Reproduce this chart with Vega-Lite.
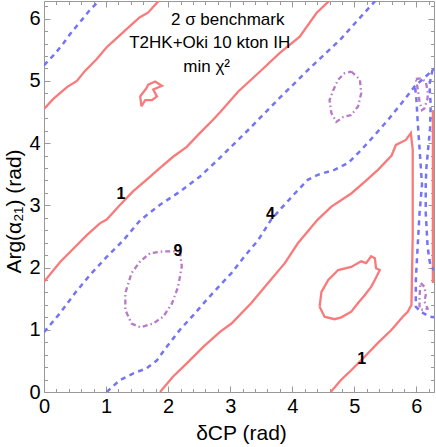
{
  "$schema": "https://vega.github.io/schema/vega-lite/v6.json",
  "width": 390,
  "height": 391,
  "autosize": {"type": "none"},
  "padding": {"left": 44, "top": 1, "right": 2, "bottom": 55},
  "config": {"view": {"stroke": null}, "font": "Liberation Sans"},
  "datasets": {
    "red": [
      {"c":"r1","i":0,"x":0,"y":4.55},{"c":"r1","i":1,"x":0.15,"y":4.71},{"c":"r1","i":2,"x":0.37,"y":4.9},{"c":"r1","i":3,"x":0.53,"y":5.0},{"c":"r1","i":4,"x":0.66,"y":5.16},{"c":"r1","i":5,"x":0.85,"y":5.35},{"c":"r1","i":6,"x":1.01,"y":5.54},{"c":"r1","i":7,"x":1.22,"y":5.73},{"c":"r1","i":8,"x":1.33,"y":5.83},{"c":"r1","i":9,"x":1.54,"y":6.02},{"c":"r1","i":10,"x":1.68,"y":6.1},{"c":"r1","i":11,"x":1.86,"y":6.3},
      {"c":"r2","i":0,"x":0,"y":1.77},{"c":"r2","i":1,"x":0.26,"y":2.09},{"c":"r2","i":2,"x":0.5,"y":2.33},{"c":"r2","i":3,"x":0.69,"y":2.52},{"c":"r2","i":4,"x":0.9,"y":2.71},{"c":"r2","i":5,"x":1.01,"y":2.77},{"c":"r2","i":6,"x":1.22,"y":3.0},{"c":"r2","i":7,"x":1.43,"y":3.22},{"c":"r2","i":8,"x":1.65,"y":3.41},{"c":"r2","i":9,"x":1.87,"y":3.6},{"c":"r2","i":10,"x":2.08,"y":3.78},{"c":"r2","i":11,"x":2.3,"y":3.94},{"c":"r2","i":12,"x":2.51,"y":4.16},{"c":"r2","i":13,"x":2.72,"y":4.37},{"c":"r2","i":14,"x":2.84,"y":4.5},{"c":"r2","i":15,"x":3.13,"y":4.83},{"c":"r2","i":16,"x":3.48,"y":5.15},{"c":"r2","i":17,"x":3.8,"y":5.45},{"c":"r2","i":18,"x":4.12,"y":5.71},{"c":"r2","i":19,"x":4.39,"y":6.09},{"c":"r2","i":20,"x":4.61,"y":6.3},
      {"c":"r3","i":0,"x":1.87,"y":0},{"c":"r3","i":1,"x":2.08,"y":0.25},{"c":"r3","i":2,"x":2.3,"y":0.46},{"c":"r3","i":3,"x":2.57,"y":0.73},{"c":"r3","i":4,"x":2.84,"y":0.97},{"c":"r3","i":5,"x":3.02,"y":1.1},{"c":"r3","i":6,"x":3.34,"y":1.43},{"c":"r3","i":7,"x":3.61,"y":1.75},{"c":"r3","i":8,"x":3.88,"y":2.07},{"c":"r3","i":9,"x":4.09,"y":2.39},{"c":"r3","i":10,"x":4.41,"y":2.77},{"c":"r3","i":11,"x":4.63,"y":2.98},{"c":"r3","i":12,"x":4.95,"y":3.19},{"c":"r3","i":13,"x":5.17,"y":3.38},{"c":"r3","i":14,"x":5.38,"y":3.57},{"c":"r3","i":15,"x":5.6,"y":3.8},{"c":"r3","i":16,"x":5.67,"y":3.97},{"c":"r3","i":17,"x":5.83,"y":4.05},{"c":"r3","i":18,"x":5.91,"y":4.16},{"c":"r3","i":19,"x":5.94,"y":3.9},{"c":"r3","i":20,"x":5.94,"y":2.5},{"c":"r3","i":21,"x":5.92,"y":1.4},{"c":"r3","i":22,"x":5.86,"y":1.29},{"c":"r3","i":23,"x":5.78,"y":1.21},{"c":"r3","i":24,"x":5.6,"y":1.0},{"c":"r3","i":25,"x":5.38,"y":0.79},{"c":"r3","i":26,"x":5.17,"y":0.57},{"c":"r3","i":27,"x":4.95,"y":0.35},{"c":"r3","i":28,"x":4.78,"y":0.19},{"c":"r3","i":29,"x":4.62,"y":0},
      {"c":"r4","i":0,"x":6.265,"y":4.53},{"c":"r4","i":1,"x":6.265,"y":1.75},
      {"c":"r5","i":0,"x":1.57,"y":4.59},{"c":"r5","i":1,"x":1.55,"y":4.75},{"c":"r5","i":2,"x":1.65,"y":4.88},{"c":"r5","i":3,"x":1.68,"y":4.94},{"c":"r5","i":4,"x":1.79,"y":4.99},{"c":"r5","i":5,"x":1.9,"y":4.92},{"c":"r5","i":6,"x":1.76,"y":4.86},{"c":"r5","i":7,"x":1.82,"y":4.75},{"c":"r5","i":8,"x":1.74,"y":4.69},{"c":"r5","i":9,"x":1.63,"y":4.69},{"c":"r5","i":10,"x":1.6,"y":4.64},{"c":"r5","i":11,"x":1.57,"y":4.59},
      {"c":"r6","i":0,"x":4.44,"y":1.37},{"c":"r6","i":1,"x":4.47,"y":1.61},{"c":"r6","i":2,"x":4.58,"y":1.8},{"c":"r6","i":3,"x":4.74,"y":1.96},{"c":"r6","i":4,"x":4.95,"y":2.01},{"c":"r6","i":5,"x":5.11,"y":2.1},{"c":"r6","i":6,"x":5.19,"y":2.07},{"c":"r6","i":7,"x":5.27,"y":2.18},{"c":"r6","i":8,"x":5.33,"y":2.15},{"c":"r6","i":9,"x":5.35,"y":1.99},{"c":"r6","i":10,"x":5.41,"y":1.96},{"c":"r6","i":11,"x":5.33,"y":1.8},{"c":"r6","i":12,"x":5.27,"y":1.69},{"c":"r6","i":13,"x":5.17,"y":1.56},{"c":"r6","i":14,"x":5.06,"y":1.43},{"c":"r6","i":15,"x":4.95,"y":1.29},{"c":"r6","i":16,"x":4.79,"y":1.2},{"c":"r6","i":17,"x":4.68,"y":1.17},{"c":"r6","i":18,"x":4.52,"y":1.21},{"c":"r6","i":19,"x":4.44,"y":1.37}
    ],
    "blue": [
      {"c":"b1","i":0,"x":0,"y":5.25},{"c":"b1","i":1,"x":0.18,"y":5.44},{"c":"b1","i":2,"x":0.31,"y":5.6},{"c":"b1","i":3,"x":0.45,"y":5.79},{"c":"b1","i":4,"x":0.61,"y":5.98},{"c":"b1","i":5,"x":0.74,"y":6.14},{"c":"b1","i":6,"x":0.9,"y":6.3},
      {"c":"b2","i":0,"x":0,"y":0.96},{"c":"b2","i":1,"x":0.26,"y":1.27},{"c":"b2","i":2,"x":0.5,"y":1.59},{"c":"b2","i":3,"x":0.74,"y":1.88},{"c":"b2","i":4,"x":1.01,"y":2.17},{"c":"b2","i":5,"x":1.28,"y":2.44},{"c":"b2","i":6,"x":1.55,"y":2.76},{"c":"b2","i":7,"x":1.87,"y":3.01},{"c":"b2","i":8,"x":2.19,"y":3.22},{"c":"b2","i":9,"x":2.51,"y":3.46},{"c":"b2","i":10,"x":2.8,"y":3.73},{"c":"b2","i":11,"x":3.32,"y":4.24},{"c":"b2","i":12,"x":3.8,"y":4.73},{"c":"b2","i":13,"x":4.29,"y":5.21},{"c":"b2","i":14,"x":4.77,"y":5.66},{"c":"b2","i":15,"x":5.25,"y":6.19},{"c":"b2","i":16,"x":5.35,"y":6.3},
      {"c":"b3","i":0,"x":1.01,"y":0},{"c":"b3","i":1,"x":1.22,"y":0.19},{"c":"b3","i":2,"x":1.44,"y":0.3},{"c":"b3","i":3,"x":1.65,"y":0.38},{"c":"b3","i":4,"x":1.82,"y":0.51},{"c":"b3","i":5,"x":1.98,"y":0.73},{"c":"b3","i":6,"x":2.19,"y":1.0},{"c":"b3","i":7,"x":2.41,"y":1.24},{"c":"b3","i":8,"x":2.62,"y":1.48},{"c":"b3","i":9,"x":2.84,"y":1.72},{"c":"b3","i":10,"x":3.02,"y":1.91},{"c":"b3","i":11,"x":3.23,"y":2.18},{"c":"b3","i":12,"x":3.45,"y":2.44},{"c":"b3","i":13,"x":3.66,"y":2.77},{"c":"b3","i":14,"x":3.82,"y":2.95},{"c":"b3","i":15,"x":4.04,"y":3.19},{"c":"b3","i":16,"x":4.25,"y":3.41},{"c":"b3","i":17,"x":4.41,"y":3.49},{"c":"b3","i":18,"x":4.68,"y":3.57},{"c":"b3","i":19,"x":4.9,"y":3.68},{"c":"b3","i":20,"x":5.11,"y":3.89},{"c":"b3","i":21,"x":5.33,"y":4.13},{"c":"b3","i":22,"x":5.54,"y":4.37},{"c":"b3","i":23,"x":5.76,"y":4.64},{"c":"b3","i":24,"x":5.97,"y":4.91},{"c":"b3","i":25,"x":6.24,"y":5.15},{"c":"b3","i":26,"x":6.29,"y":5.2},
      {"c":"b4","i":0,"x":5.98,"y":4.89},{"c":"b4","i":1,"x":6.0,"y":4.7},{"c":"b4","i":2,"x":6.02,"y":4.35},{"c":"b4","i":3,"x":6.05,"y":3.92},{"c":"b4","i":4,"x":6.09,"y":3.33},{"c":"b4","i":5,"x":6.05,"y":2.87},{"c":"b4","i":6,"x":6.02,"y":2.34},{"c":"b4","i":7,"x":5.99,"y":1.8},{"c":"b4","i":8,"x":5.99,"y":1.37},{"c":"b4","i":9,"x":6.07,"y":1.29},{"c":"b4","i":10,"x":6.21,"y":1.21},{"c":"b4","i":11,"x":6.29,"y":1.2},
      {"c":"b5","i":0,"x":6.26,"y":5.18},{"c":"b5","i":1,"x":6.21,"y":4.94},{"c":"b5","i":2,"x":6.23,"y":4.61},{"c":"b5","i":3,"x":6.22,"y":4.24},{"c":"b5","i":4,"x":6.19,"y":3.92},{"c":"b5","i":5,"x":6.16,"y":3.6},{"c":"b5","i":6,"x":6.15,"y":3.33},{"c":"b5","i":7,"x":6.15,"y":2.88},{"c":"b5","i":8,"x":6.18,"y":2.34},{"c":"b5","i":9,"x":6.21,"y":2.12},{"c":"b5","i":10,"x":6.23,"y":2.01},{"c":"b5","i":11,"x":6.29,"y":1.96}
    ],
    "purple": [
      {"c":"p1","i":0,"x":2.19,"y":2.26},{"c":"p1","i":1,"x":2.22,"y":2.02},{"c":"p1","i":2,"x":2.16,"y":1.69},{"c":"p1","i":3,"x":2.06,"y":1.42},{"c":"p1","i":4,"x":1.92,"y":1.21},{"c":"p1","i":5,"x":1.76,"y":1.1},{"c":"p1","i":6,"x":1.55,"y":1.04},{"c":"p1","i":7,"x":1.41,"y":1.1},{"c":"p1","i":8,"x":1.31,"y":1.32},{"c":"p1","i":9,"x":1.31,"y":1.59},{"c":"p1","i":10,"x":1.41,"y":1.91},{"c":"p1","i":11,"x":1.55,"y":2.1},{"c":"p1","i":12,"x":1.71,"y":2.23},{"c":"p1","i":13,"x":1.92,"y":2.26},{"c":"p1","i":14,"x":2.08,"y":2.26},{"c":"p1","i":15,"x":2.19,"y":2.26},
      {"c":"p2","i":0,"x":4.95,"y":5.15},{"c":"p2","i":1,"x":5.09,"y":5.02},{"c":"p2","i":2,"x":5.11,"y":4.8},{"c":"p2","i":3,"x":5.06,"y":4.59},{"c":"p2","i":4,"x":4.95,"y":4.45},{"c":"p2","i":5,"x":4.82,"y":4.42},{"c":"p2","i":6,"x":4.71,"y":4.34},{"c":"p2","i":7,"x":4.63,"y":4.48},{"c":"p2","i":8,"x":4.6,"y":4.69},{"c":"p2","i":9,"x":4.66,"y":4.85},{"c":"p2","i":10,"x":4.74,"y":5.02},{"c":"p2","i":11,"x":4.84,"y":5.12},{"c":"p2","i":12,"x":4.95,"y":5.15},
      {"c":"p3","i":0,"x":5.99,"y":5.03},{"c":"p3","i":1,"x":6.07,"y":5.04},{"c":"p3","i":2,"x":6.15,"y":4.99},{"c":"p3","i":3,"x":6.18,"y":4.83},{"c":"p3","i":4,"x":6.18,"y":4.72},{"c":"p3","i":5,"x":6.13,"y":4.56},{"c":"p3","i":6,"x":6.09,"y":4.53},{"c":"p3","i":7,"x":6.05,"y":4.67},{"c":"p3","i":8,"x":6.02,"y":4.88},{"c":"p3","i":9,"x":5.99,"y":5.03},
      {"c":"p4","i":0,"x":6.07,"y":1.75},{"c":"p4","i":1,"x":6.13,"y":1.69},{"c":"p4","i":2,"x":6.15,"y":1.56},{"c":"p4","i":3,"x":6.13,"y":1.45},{"c":"p4","i":4,"x":6.18,"y":1.34},{"c":"p4","i":5,"x":6.1,"y":1.32},{"c":"p4","i":6,"x":6.05,"y":1.34},{"c":"p4","i":7,"x":6.05,"y":1.53},{"c":"p4","i":8,"x":6.06,"y":1.69},{"c":"p4","i":9,"x":6.07,"y":1.75}
    ],
    "clabels": [
      {"t":"1","x":1.24,"y":3.18},{"t":"4","x":3.65,"y":2.86},{"t":"9","x":2.16,"y":2.27},{"t":"1","x":5.12,"y":0.53}
    ],
    "notes": [
      {"t":"2 σ benchmark","x":2.96,"y":5.9},{"t":"T2HK+Oki 10 kton IH","x":2.67,"y":5.53},{"t":"min χ²","x":2.62,"y":5.15}
    ]
  },
  "layer": [
    {
      "data": {"name": "red"},
      "mark": {"type": "line", "color": "#f97a7a", "strokeWidth": 2.3, "clip": true},
      "encoding": {
        "x": {"field": "x", "type": "quantitative", "scale": {"domain": [0, 6.2832], "nice": false, "zero": false},
          "axis": {"orient": "bottom", "values": [0,1,2,3,4,5,6], "format": "d", "tickSize": -6, "tickColor": "#999999", "domainColor": "#999999", "labelPadding": 10, "labelFontSize": 20, "labelColor": "black", "labelFlush": false, "labelOverlap": false, "grid": false,
            "title": "δCP  (rad)", "titleFontSize": 21, "titleFontWeight": "normal", "titleColor": "black", "titleX": 197, "titleY": 47, "titleBaseline": "alphabetic", "titleAlign": "center"}},
        "y": {"field": "y", "type": "quantitative", "scale": {"domain": [0, 6.2832], "nice": false, "zero": false},
          "axis": {"orient": "left", "values": [0,1,2,3,4,5,6], "format": "d", "tickSize": -6, "tickColor": "#999999", "domainColor": "#999999", "labelPadding": 10, "labelFontSize": 20, "labelColor": "black", "labelFlush": false, "labelOverlap": false, "grid": false,
            "title": "Arg(α₂₁)  (rad)", "titleFontSize": 21, "titleFontWeight": "normal", "titleColor": "black", "titleAngle": -90, "titleX": -24, "titleY": 210, "titleBaseline": "alphabetic", "titleAlign": "center"}},
        "detail": {"field": "c"},
        "order": {"field": "i", "type": "quantitative"}
      }
    },
    {
      "data": {"name": "blue"},
      "mark": {"type": "line", "color": "#7474f4", "strokeWidth": 2.5, "strokeDash": [5, 4.5], "clip": true},
      "encoding": {
        "x": {"field": "x", "type": "quantitative", "scale": {"domain": [0, 6.2832], "nice": false, "zero": false},
          "axis": {"orient": "bottom", "values": [0.2,0.4,0.6,0.8,1.2,1.4,1.6,1.8,2.2,2.4,2.6,2.8,3.2,3.4,3.6,3.8,4.2,4.4,4.6,4.8,5.2,5.4,5.6,5.8,6.2], "tickSize": -3.5, "tickColor": "#999999", "labels": false, "domain": false, "grid": false, "title": null}},
        "y": {"field": "y", "type": "quantitative", "scale": {"domain": [0, 6.2832], "nice": false, "zero": false},
          "axis": {"orient": "left", "values": [0.2,0.4,0.6,0.8,1.2,1.4,1.6,1.8,2.2,2.4,2.6,2.8,3.2,3.4,3.6,3.8,4.2,4.4,4.6,4.8,5.2,5.4,5.6,5.8,6.2], "tickSize": -3.5, "tickColor": "#999999", "labels": false, "domain": false, "grid": false, "title": null}},
        "detail": {"field": "c"},
        "order": {"field": "i", "type": "quantitative"}
      }
    },
    {
      "data": {"name": "purple"},
      "mark": {"type": "line", "color": "#b67ac6", "strokeWidth": 2.3, "strokeDash": [5, 3, 1.5, 3], "clip": true},
      "encoding": {
        "x": {"field": "x", "type": "quantitative", "scale": {"domain": [0, 6.2832], "nice": false, "zero": false},
          "axis": {"orient": "top", "values": [0,1,2,3,4,5,6], "tickSize": -6, "tickColor": "#999999", "domainColor": "#999999", "labels": false, "grid": false, "title": null}},
        "y": {"field": "y", "type": "quantitative", "scale": {"domain": [0, 6.2832], "nice": false, "zero": false},
          "axis": {"orient": "right", "values": [0,1,2,3,4,5,6], "tickSize": -6, "tickColor": "#999999", "domainColor": "#999999", "labels": false, "grid": false, "title": null}},
        "detail": {"field": "c"},
        "order": {"field": "i", "type": "quantitative"}
      }
    },
    {
      "data": {"name": "clabels"},
      "mark": {"type": "text", "fontSize": 16, "fontWeight": "bold", "color": "black", "align": "center", "baseline": "middle"},
      "encoding": {
        "x": {"field": "x", "type": "quantitative", "scale": {"domain": [0, 6.2832], "nice": false, "zero": false},
          "axis": {"orient": "top", "values": [0.2,0.4,0.6,0.8,1.2,1.4,1.6,1.8,2.2,2.4,2.6,2.8,3.2,3.4,3.6,3.8,4.2,4.4,4.6,4.8,5.2,5.4,5.6,5.8,6.2], "tickSize": -3.5, "tickColor": "#999999", "labels": false, "domain": false, "grid": false, "title": null}},
        "y": {"field": "y", "type": "quantitative", "scale": {"domain": [0, 6.2832], "nice": false, "zero": false},
          "axis": {"orient": "right", "values": [0.2,0.4,0.6,0.8,1.2,1.4,1.6,1.8,2.2,2.4,2.6,2.8,3.2,3.4,3.6,3.8,4.2,4.4,4.6,4.8,5.2,5.4,5.6,5.8,6.2], "tickSize": -3.5, "tickColor": "#999999", "labels": false, "domain": false, "grid": false, "title": null}},
        "text": {"field": "t"}
      }
    },
    {
      "data": {"name": "notes"},
      "mark": {"type": "text", "fontSize": 17, "color": "black", "align": "center", "baseline": "alphabetic"},
      "encoding": {
        "x": {"field": "x", "type": "quantitative", "scale": {"domain": [0, 6.2832], "nice": false, "zero": false}, "axis": null},
        "y": {"field": "y", "type": "quantitative", "scale": {"domain": [0, 6.2832], "nice": false, "zero": false}, "axis": null},
        "text": {"field": "t"}
      }
    }
  ],
  "resolve": {"axis": {"x": "independent", "y": "independent"}}
}
